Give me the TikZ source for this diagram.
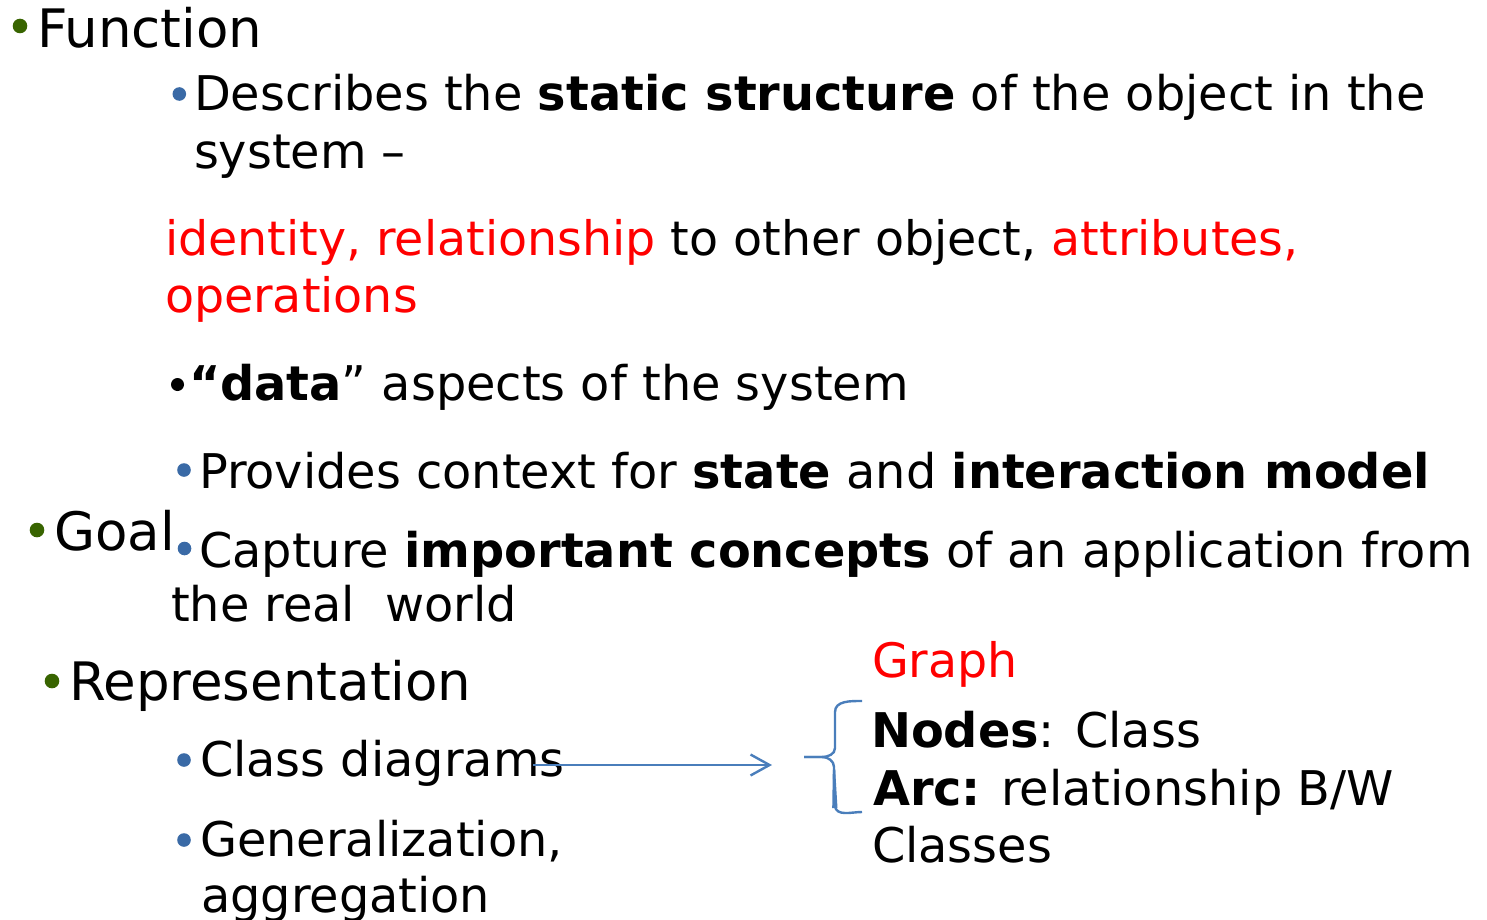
\documentclass[tikz,border=0pt]{standalone}
\usepackage{fontspec}
\setmainfont{DejaVu Sans}
\usetikzlibrary{arrows.meta}
\definecolor{lvlone}{HTML}{386400}
\definecolor{lvltwo}{HTML}{3A6AA6}
\definecolor{linkblue}{HTML}{4A7EBB}
\definecolor{hot}{HTML}{FF0000}
\tikzset{
  txt/.style={anchor=base west, inner sep=0pt, outer sep=0pt, text=black},
  big/.style={txt, font=\fontsize{53}{63}\selectfont},
  mid/.style={txt, font=\fontsize{47.8}{57}\selectfont},
  midred/.style={txt, text=hot, font=\fontsize{47.5}{57}\selectfont},
  dotone/.style={fill=lvlone, draw=none},
  dottwo/.style={fill=lvltwo, draw=none},
  dotblack/.style={fill=black, draw=none},
  link/.style={draw=linkblue, line width=2.4pt},
}
\begin{document}
\begin{tikzpicture}[x=1pt, y=-1pt]
\useasboundingbox (0,0) rectangle (1487,920);

% top-level bullets
\fill[dotone] (20,26) circle (7.3);
\node[big] (fn) at (37,48) {Function};
\fill[dotone] (37,530) circle (7.3);
\node[big] (goal) at (54,550) {Goal};
\fill[dotone] (52,681) circle (7.3);
\node[big] (rep) at (69,700) {Representation};

% Function details
\fill[dottwo] (179.3,94) circle (6.8);
\node[mid] (desc1) at (194,111) {Describes the \textbf{static structure} of the object in the};
\node[mid] (desc2) at (194,169) {system –};
\node[midred] (ids1) at (165,255) {identity, relationship \textcolor{black}{to other object,} attributes,};
\node[midred] (ids2) at (165,312) {operations};
\fill[dotblack] (177.5,384.5) circle (6.5);
\node[mid] (data) at (189,400) {\textbf{“data}” aspects of the system};
\fill[dottwo] (184,470) circle (6.8);
\node[mid] (prov) at (199,488) {Provides context for \textbf{state} and \textbf{interaction model}};

% Goal details
\fill[dottwo] (184.5,548.5) circle (6.8);
\node[mid] (cap1) at (199,567) {Capture \textbf{important concepts} of an application from};
\node[mid] (cap2) at (171,621) {the real\ \ world};

% Representation details
\fill[dottwo] (184,760) circle (6.8);
\node[mid] (cls) at (200,776) {Class diagrams};
\fill[dottwo] (184,840) circle (6.8);
\node[mid] (gen1) at (200,856) {Generalization,};
\node[mid] (gen2) at (201,912) {aggregation};

% graph description
\node[midred] (graph) at (872,677) {Graph};
\node[mid] (nodes) at (871,747) {\textbf{Nodes}: Class};
\node[mid] (arc) at (873,805) {\textbf{Arc:} relationship B/W};
\node[mid] (classes) at (872,862) {Classes};

% arrow from the class diagrams item
\coordinate (arrS) at (533,765);
\coordinate (arrE) at (772,765);
\draw[link, -{Straight Barb[length=19pt, width=21pt, line width=2.4pt]}] (arrS) -- (arrE);

% curly brace grouping the graph description
\coordinate (brTop) at (862,701);
\coordinate (brTip) at (804,757);
\coordinate (brBot) at (862,812);
\draw[link, line join=round] (brTop) to[out=180,in=90] (835,712) -- (835,748)
  to[out=-90,in=0] (822,757) -- (brTip);
\draw[link, line join=round] (brTip) -- (822,757) to[out=0,in=90] (834,767) -- (834.5,800);
\fill[linkblue] (832.8,770) -- (835.2,770) -- (837.5,808) -- (832.2,808) -- cycle;
\draw[link] (834.8,806) to[out=-80,in=180] (brBot);
\end{tikzpicture}
\end{document}
